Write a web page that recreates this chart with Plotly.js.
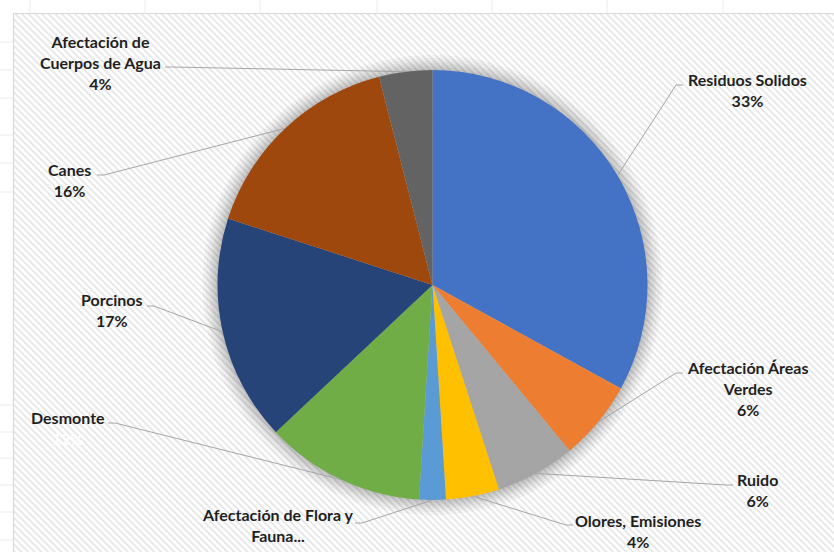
<!DOCTYPE html>
<html>
<head>
<meta charset="utf-8">
<script src="https://cdn.plot.ly/plotly-3.0.1.min.js"></script>
<style>
  html, body { margin: 0; padding: 0; background: #ffffff; }
  #chart { width: 834px; height: 552px; }
</style>
</head>
<body>
<div id="chart"></div>
<script>
// ---- data ----
const categories = [
  'Residuos Solidos',
  'Afectación Áreas Verdes',
  'Ruido',
  'Olores, Emisiones',
  'Afectación de Flora y Fauna...',
  'Desmonte',
  'Porcinos',
  'Canes',
  'Afectación de Cuerpos de Agua'
];
const values = [33, 6, 6, 4, 2, 12, 17, 16, 4];
const labelLines = [
  ['Residuos Solidos'],
  ['Afectación Áreas', 'Verdes'],
  ['Ruido'],
  ['Olores, Emisiones'],
  ['Afectación de Flora y', 'Fauna...'],
  ['Desmonte'],
  ['Porcinos'],
  ['Canes'],
  ['Afectación de', 'Cuerpos de Agua']
];
const colors = ['#4472C4', '#ED7D31', '#A5A5A5', '#FFC000', '#5B9BD5',
                '#70AD47', '#264478', '#9E480E', '#636363'];

// ---- layout geometry (pixels) ----
const W = 834, H = 552;
const CX = 432.5, CY = 285, R = 215;
// label block centre (tx,ty), leader start (lx,ly), knee offset toward pie, percent display
const labelPos = [
  {tx: 747, ty: 90,  lx: 683, ly: 85,  k: -7, pct: 'show'},
  {tx: 747, ty: 388, lx: 683, ly: 373, k: -7, pct: 'show'},
  {tx: 757, ty: 490, lx: 733, ly: 485, k: -7, pct: 'show'},
  {tx: 638, ty: 531, lx: 573, ly: 525, k: -7, pct: 'show'},
  {tx: 278, ty: 525, lx: 355, ly: 523, k: 7,  pct: 'hide'},
  {tx: 68,  ty: 428, lx: 108, ly: 423, k: 7,  pct: 'white'},
  {tx: 111, ty: 310, lx: 147, ly: 306, k: 7,  pct: 'show'},
  {tx: 69,  ty: 180, lx: 97,  ly: 175, k: 7,  pct: 'show'},
  {tx: 100, ty: 62,  lx: 165, ly: 67,  k: 7,  pct: 'show'}
];

const px = x => x / W;
const py = y => 1 - y / H;

const total = values.reduce((a, b) => a + b, 0);

// ---- background hatch (Excel chart area pattern) ----
const bx = 13, by = 13;
const bw = W - bx, bh = H - by;
const hatchSvg =
  "<svg xmlns='http://www.w3.org/2000/svg' width='" + bw + "' height='" + bh + "'>" +
  "<defs><pattern id='p' width='4.7' height='4.7' patternUnits='userSpaceOnUse' patternTransform='rotate(-45)'>" +
  "<rect width='4.7' height='4.7' fill='#ffffff'/><rect width='1.8' height='4.7' fill='#e6e6e6'/></pattern></defs>" +
  "<rect width='100%' height='100%' fill='url(#p)'/></svg>";
const hatchUri = 'data:image/svg+xml;charset=utf-8,' + encodeURIComponent(hatchSvg);

// ---- shapes ----
const shapes = [];
// faint spreadsheet grid lines outside the chart area
[30, 145, 260, 377, 492, 607, 723].forEach(x => {
  shapes.push({type: 'line', xref: 'paper', yref: 'paper', x0: px(x), x1: px(x), y0: py(0), y1: py(by),
               line: {color: '#ececec', width: 1}, layer: 'below'});
});
[42, 70, 98, 135, 163, 192, 405, 432, 458, 485, 512, 540].forEach(y => {
  shapes.push({type: 'line', xref: 'paper', yref: 'paper', x0: px(0), x1: px(bx), y0: py(y), y1: py(y),
               line: {color: '#ececec', width: 1}, layer: 'below'});
});
// chart area border
shapes.push({type: 'rect', xref: 'paper', yref: 'paper', x0: px(bx + 0.5), y0: py(by + 0.5), x1: px(W + 5), y1: py(H + 5),
             line: {color: '#d9d9d9', width: 1.2}, fillcolor: 'rgba(0,0,0,0)', layer: 'below'});
// soft glow/shadow around the pie
[15, 12, 9, 7, 5, 3, 1.5].forEach(d => {
  shapes.push({type: 'circle', xref: 'paper', yref: 'paper',
               x0: px(CX - R - d), x1: px(CX + R + d), y0: py(CY + R + d), y1: py(CY - R - d),
               fillcolor: 'rgba(0,0,0,0.035)', line: {width: 0}, layer: 'below'});
});

// leader lines from labels to slice mid-angle on the rim
let cum = 0;
const annotations = [];
values.forEach((v, i) => {
  const mid = (cum + v / 2) / total;
  cum += v;
  const th = 2 * Math.PI * mid;
  const ex = CX + R * Math.sin(th);
  const ey = CY - R * Math.cos(th);
  const p = labelPos[i];
  const kx = p.lx + p.k;
  shapes.push({type: 'path', xref: 'paper', yref: 'paper',
               path: 'M' + px(p.lx) + ',' + py(p.ly) + ' L' + px(kx) + ',' + py(p.ly) + ' L' + px(ex) + ',' + py(ey),
               line: {color: '#a6a6a6', width: 1}, layer: 'above'});
  const pct = Math.round(v / total * 100) + '%';
  const lines = labelLines[i].slice();
  if (p.pct === 'show') lines.push(pct);
  if (p.pct === 'white') lines.push("<span style='color:#ffffff'>" + pct + "</span>");
  annotations.push({
    xref: 'paper', yref: 'paper', x: px(p.tx), y: py(p.ty),
    xanchor: 'center', yanchor: 'middle', align: 'center', showarrow: false,
    text: '<b>' + lines.join('<br>') + '</b>',
    font: {family: 'Lato, "Open Sans", sans-serif', size: 16, color: '#1f1f1f'}
  });
});

const trace = {
  type: 'pie',
  labels: categories,
  values: values,
  sort: false,
  direction: 'clockwise',
  rotation: 0,
  textinfo: 'none',
  hoverinfo: 'label+percent',
  marker: {colors: colors, line: {width: 0}},
  domain: {x: [px(CX - R), px(CX + R)], y: [py(CY + R), py(CY - R)]},
  showlegend: false
};

const layout = {
  width: W, height: H,
  margin: {l: 0, r: 0, t: 0, b: 0, pad: 0},
  paper_bgcolor: '#ffffff',
  showlegend: false,
  images: [{source: hatchUri, xref: 'paper', yref: 'paper', x: px(bx), y: py(by),
            sizex: bw / W, sizey: bh / H, sizing: 'stretch', xanchor: 'left', yanchor: 'top', layer: 'below'}],
  shapes: shapes,
  annotations: annotations
};

Plotly.newPlot('chart', [trace], layout, {displayModeBar: false, staticPlot: true});
</script>
</body>
</html>
